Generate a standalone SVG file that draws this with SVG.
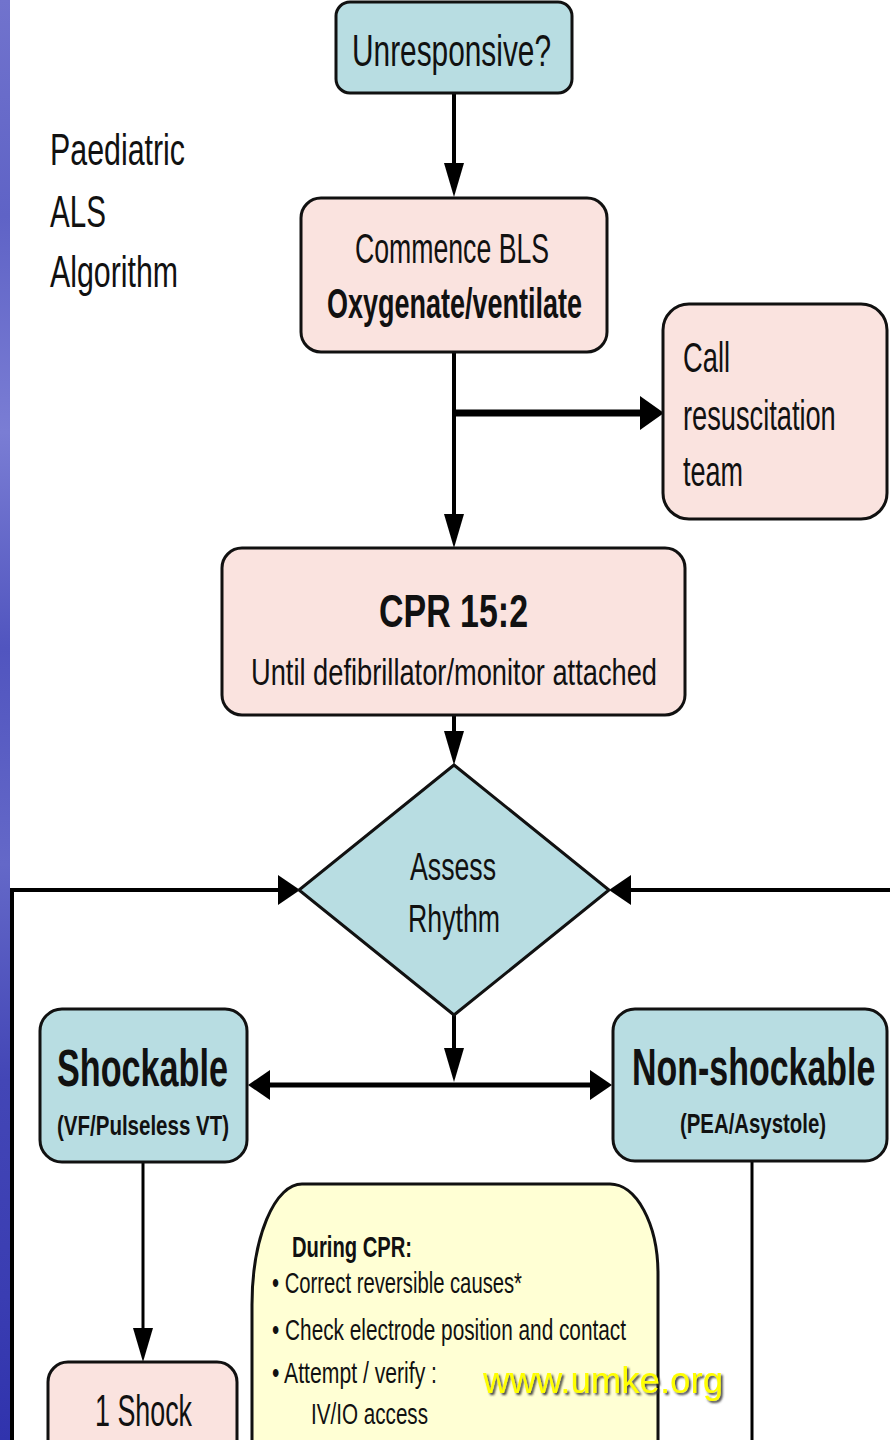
<svg xmlns="http://www.w3.org/2000/svg" width="890" height="1440" viewBox="0 0 890 1440">
<style>
.t{font-family:"Liberation Sans Narrow","Liberation Sans",Arial,sans-serif;fill:#111;}
.b{font-weight:bold;}
.teal{fill:#b8dde2;stroke:#111;stroke-width:3;}
.pink{fill:#fae3df;stroke:#111;stroke-width:3;}
.yel{fill:#ffffd4;stroke:#111;stroke-width:3;}
.ln{fill:none;stroke:#000;}
</style>
<defs>
<linearGradient id="strip" x1="0" y1="0" x2="0" y2="1">
<stop offset="0" stop-color="#7173cd"/>
<stop offset="0.15" stop-color="#5f63c6"/>
<stop offset="0.3" stop-color="#7a7dd4"/>
<stop offset="0.45" stop-color="#5155bf"/>
<stop offset="0.6" stop-color="#6468c8"/>
<stop offset="0.75" stop-color="#4346b6"/>
<stop offset="0.9" stop-color="#3a3db2"/>
<stop offset="1" stop-color="#3033ad"/>
</linearGradient>
<marker id="av" viewBox="0 0 34 20" markerWidth="34" markerHeight="20" refX="20" refY="10" orient="auto" markerUnits="userSpaceOnUse"><path d="M0,0 L34,10 L0,20 z" fill="#000"/></marker>
<marker id="ah" viewBox="0 0 22 30" markerWidth="22" markerHeight="30" refX="10" refY="15" orient="auto-start-reverse" markerUnits="userSpaceOnUse"><path d="M0,0 L22,15 L0,30 z" fill="#000"/></marker>
<marker id="ab" viewBox="0 0 24 34" markerWidth="24" markerHeight="34" refX="10" refY="17" orient="auto" markerUnits="userSpaceOnUse"><path d="M0,0 L24,17 L0,34 z" fill="#000"/></marker>
<filter id="sh" x="-10%" y="-30%" width="130%" height="160%"><feDropShadow dx="2" dy="2" stdDeviation="1" flood-color="#333" flood-opacity="0.9"/></filter>
</defs>
<rect x="0" y="0" width="890" height="1440" fill="#fff"/>
<rect x="0" y="0" width="10" height="1440" fill="url(#strip)"/>

<g id="title">
<text class="t" x="50" y="165" font-size="45" textLength="135" lengthAdjust="spacingAndGlyphs">Paediatric</text>
<text class="t" x="50" y="227" font-size="45" textLength="56" lengthAdjust="spacingAndGlyphs">ALS</text>
<text class="t" x="50" y="287" font-size="45" textLength="128" lengthAdjust="spacingAndGlyphs">Algorithm</text>
</g>

<g id="connectors">
<path class="ln" stroke-width="4" d="M454,93 L454,183" marker-end="url(#av)"/>
<path class="ln" stroke-width="4" d="M454,352 L454,534" marker-end="url(#av)"/>
<path class="ln" stroke-width="7" d="M454,413 L650,413" marker-end="url(#ab)"/>
<path class="ln" stroke-width="4" d="M454,715 L454,751" marker-end="url(#av)"/>
<path class="ln" stroke-width="4" d="M12,1440 L12,890 L288,890" marker-end="url(#ah)"/>
<path class="ln" stroke-width="4" d="M890,890 L621,890" marker-end="url(#ah)"/>
<path class="ln" stroke-width="4" d="M454,1015 L454,1068" marker-end="url(#av)"/>
<path class="ln" stroke-width="5" d="M260,1085 L600,1085" marker-start="url(#ah)" marker-end="url(#ah)"/>
<path class="ln" stroke-width="3" d="M143,1163 L143,1348" marker-end="url(#av)"/>
<path class="ln" stroke-width="3" d="M752,1162 L752,1440"/>
</g>

<g id="unresponsive">
<rect class="teal" x="336" y="2" width="236" height="91" rx="14"/>
<text class="t" x="352" y="66" font-size="45" textLength="199" lengthAdjust="spacingAndGlyphs">Unresponsive?</text>
</g>

<g id="commence">
<rect class="pink" x="301" y="198" width="306" height="154" rx="20"/>
<text class="t" x="355" y="263" font-size="43" textLength="194" lengthAdjust="spacingAndGlyphs">Commence BLS</text>
<text class="t b" x="327" y="318" font-size="43" textLength="255" lengthAdjust="spacingAndGlyphs">Oxygenate/ventilate</text>
</g>

<g id="call">
<rect class="pink" x="663" y="304" width="224" height="215" rx="26"/>
<text class="t" x="683" y="372" font-size="43" textLength="47" lengthAdjust="spacingAndGlyphs">Call</text>
<text class="t" transform="translate(683,430) scale(0.65,1)" x="0" y="0" font-size="43" textLength="235" lengthAdjust="spacingAndGlyphs">resuscitation</text>
<text class="t" x="683" y="486" font-size="43" textLength="60" lengthAdjust="spacingAndGlyphs">team</text>
</g>

<g id="cpr">
<rect class="pink" x="222" y="548" width="463" height="167" rx="20"/>
<text class="t b" x="379" y="627" font-size="47" textLength="149" lengthAdjust="spacingAndGlyphs">CPR 15:2</text>
<text class="t" x="251" y="685" font-size="37" textLength="406" lengthAdjust="spacingAndGlyphs">Until defibrillator/monitor attached</text>
</g>

<g id="assess">
<polygon class="teal" points="454,765 609,890 454,1015 299,890"/>
<text class="t" x="410" y="880" font-size="39" textLength="86" lengthAdjust="spacingAndGlyphs">Assess</text>
<text class="t" x="408" y="932" font-size="39" textLength="92" lengthAdjust="spacingAndGlyphs">Rhythm</text>
</g>

<g id="shockable">
<rect class="teal" x="40" y="1009" width="207" height="153" rx="22"/>
<text class="t b" x="57" y="1086" font-size="51" textLength="171" lengthAdjust="spacingAndGlyphs">Shockable</text>
<text class="t b" x="57" y="1135" font-size="28" textLength="172" lengthAdjust="spacingAndGlyphs">(VF/Pulseless VT)</text>
</g>

<g id="nonshockable">
<rect class="teal" x="613" y="1009" width="274" height="152" rx="22"/>
<text class="t b" transform="translate(632,1085) scale(0.68,1)" x="0" y="0" font-size="51" textLength="358" lengthAdjust="spacingAndGlyphs">Non-shockable</text>
<text class="t b" x="680" y="1133" font-size="28" textLength="146" lengthAdjust="spacingAndGlyphs">(PEA/Asystole)</text>
</g>

<g id="during">
<path class="yel" d="M252,1460 L252,1305 A50,121 0 0 1 302,1184 L610,1184 A48,90 0 0 1 658,1274 L658,1460 Z"/>
<text class="t b" x="292" y="1257" font-size="30" textLength="120" lengthAdjust="spacingAndGlyphs">During CPR:</text>
<text class="t" x="272" y="1293" font-size="30" textLength="250" lengthAdjust="spacingAndGlyphs">• Correct reversible causes*</text>
<text class="t" x="272" y="1340" font-size="30" textLength="354" lengthAdjust="spacingAndGlyphs">• Check electrode position and contact</text>
<text class="t" x="272" y="1383" font-size="30" textLength="165" lengthAdjust="spacingAndGlyphs">• Attempt / verify :</text>
<text class="t" x="311" y="1424" font-size="30" textLength="117" lengthAdjust="spacingAndGlyphs">IV/IO access</text>
</g>

<g id="shock">
<rect class="pink" x="48" y="1362" width="189" height="110" rx="20"/>
<text class="t" x="95" y="1426" font-size="45" textLength="97" lengthAdjust="spacingAndGlyphs">1 Shock</text>
</g>

<g id="watermark">
<text x="483" y="1393" font-family="Liberation Sans, Arial, sans-serif" font-size="36" fill="#ffff00" filter="url(#sh)" textLength="240" lengthAdjust="spacingAndGlyphs">www.umke.org</text>
</g>
</svg>
